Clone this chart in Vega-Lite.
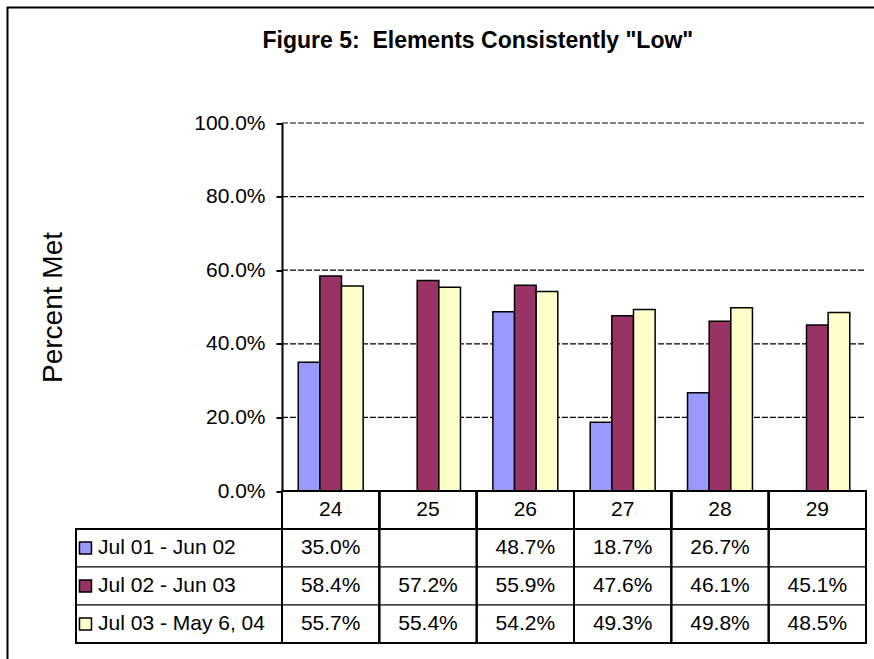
{
  "$schema": "https://vega.github.io/schema/vega-lite/v6.json",
  "usermeta": {"embedOptions": {"actions": false}},
  "autosize": "none",
  "width": 886.5,
  "height": 671.5,
  "padding": {"left": 7.5, "top": 7.5, "right": -20, "bottom": -20},
  "background": "white",
  "config": {
    "view": {"stroke": "black", "strokeWidth": 2},
    "font": "Liberation Sans"
  },
  "title": {
    "text": "Figure 5: \u00a0Elements Consistently \"Low\"",
    "font": "Liberation Sans",
    "fontSize": 23,
    "fontWeight": "bold",
    "color": "black",
    "anchor": "start",
    "frame": "group",
    "offset": -45,
    "dx": 255
  },
  "datasets": {
    "d": [
      {"cat": "24", "series": "Jul 01 - Jun 02", "value": 0.350},
      {"cat": "25", "series": "Jul 01 - Jun 02", "value": null},
      {"cat": "26", "series": "Jul 01 - Jun 02", "value": 0.487},
      {"cat": "27", "series": "Jul 01 - Jun 02", "value": 0.187},
      {"cat": "28", "series": "Jul 01 - Jun 02", "value": 0.267},
      {"cat": "29", "series": "Jul 01 - Jun 02", "value": null},
      {"cat": "24", "series": "Jul 02 - Jun 03", "value": 0.584},
      {"cat": "25", "series": "Jul 02 - Jun 03", "value": 0.572},
      {"cat": "26", "series": "Jul 02 - Jun 03", "value": 0.559},
      {"cat": "27", "series": "Jul 02 - Jun 03", "value": 0.476},
      {"cat": "28", "series": "Jul 02 - Jun 03", "value": 0.461},
      {"cat": "29", "series": "Jul 02 - Jun 03", "value": 0.451},
      {"cat": "24", "series": "Jul 03 - May 6, 04", "value": 0.557},
      {"cat": "25", "series": "Jul 03 - May 6, 04", "value": 0.554},
      {"cat": "26", "series": "Jul 03 - May 6, 04", "value": 0.542},
      {"cat": "27", "series": "Jul 03 - May 6, 04", "value": 0.493},
      {"cat": "28", "series": "Jul 03 - May 6, 04", "value": 0.498},
      {"cat": "29", "series": "Jul 03 - May 6, 04", "value": 0.485}
    ],
    "grid": [{"g": 0.2}, {"g": 0.4}, {"g": 0.6}, {"g": 0.8}, {"g": 1.0}]
  },
  "data": {"name": "d"},
  "resolve": {"scale": {"x": "independent", "y": "independent"}},
  "layer": [
    {
      "data": {"name": "grid"},
      "mark": {"type": "rule", "color": "black", "strokeWidth": 1.2, "strokeDash": [6, 2]},
      "encoding": {
        "y": {"field": "g", "type": "quantitative", "scale": {"domain": [0, 1], "range": [483.5, 115.5], "nice": false}, "axis": null},
        "x": {"datum": 0, "type": "quantitative", "scale": {"domain": [0, 1], "range": [274.5, 858.5], "nice": false}, "axis": null},
        "x2": {"datum": 1}
      }
    },
    {
      "transform": [{"filter": "isValid(datum.value)"}],
      "mark": {"type": "bar", "stroke": "black", "strokeWidth": 1.5, "opacity": 1},
      "encoding": {
        "x": {
          "field": "cat", "type": "nominal",
          "scale": {"domain": ["24", "25", "26", "27", "28", "29"], "range": [274.5, 858.5], "paddingInner": 0.333, "paddingOuter": 0.1667},
          "axis": null
        },
        "xOffset": {
          "field": "series", "type": "nominal",
          "scale": {"domain": ["Jul 01 - Jun 02", "Jul 02 - Jun 03", "Jul 03 - May 6, 04"], "paddingInner": 0, "paddingOuter": 0}
        },
        "y": {
          "field": "value", "type": "quantitative",
          "scale": {"domain": [0, 1], "range": [483.5, 115.5], "nice": false},
          "axis": {
            "orient": "left",
            "offset": -274.5,
            "values": [0, 0.2, 0.4, 0.6, 0.8, 1.0],
            "format": ".1%",
            "grid": false,
            "domainColor": "black",
            "domainWidth": 2,
            "tickColor": "black",
            "tickWidth": 2,
            "tickSize": 6,
            "labelFont": "Liberation Sans",
            "labelFontSize": 21,
            "labelColor": "black",
            "labelPadding": 11,
            "title": "Percent Met",
            "titleFont": "Liberation Sans",
            "titleFontSize": 28,
            "titleFontWeight": "normal",
            "titleColor": "black",
            "titlePadding": 126
          }
        },
        "color": {
          "field": "series", "type": "nominal",
          "scale": {"domain": ["Jul 01 - Jun 02", "Jul 02 - Jun 03", "Jul 03 - May 6, 04"], "range": ["#9999FF", "#993366", "#FFFFCC"]},
          "legend": null
        }
      }
    },
    {
      "encoding": {
        "x": {
          "field": "cat", "type": "nominal",
          "scale": {"domain": ["24", "25", "26", "27", "28", "29"], "range": [274.5, 858.5], "paddingInner": 0, "paddingOuter": 0},
          "axis": null
        }
      },
      "layer": [
        {
          "mark": {"type": "rect", "fill": "white", "stroke": "black", "strokeWidth": 1},
          "encoding": {
            "y": {"field": "series", "type": "nominal", "scale": {"domain": ["cat", "Jul 01 - Jun 02", "Jul 02 - Jun 03", "Jul 03 - May 6, 04"], "range": [483.5, 635.5], "paddingInner": 0, "paddingOuter": 0}, "axis": null}
          }
        },
        {
          "transform": [{"aggregate": [{"op": "count", "as": "n"}], "groupby": ["cat"]}],
          "mark": {"type": "rect", "fill": null, "stroke": "black", "strokeWidth": 2},
          "encoding": {
            "y": {"datum": "cat", "type": "nominal"}
          }
        },
        {
          "transform": [{"aggregate": [{"op": "count", "as": "n"}], "groupby": ["cat"]}],
          "mark": {"type": "rect", "fill": null, "stroke": "black", "strokeWidth": 2},
          "encoding": {
            "y": {"datum": "cat", "type": "nominal", "bandPosition": 0},
            "y2": {"datum": "Jul 03 - May 6, 04", "bandPosition": 1}
          }
        },
        {
          "transform": [{"aggregate": [{"op": "count", "as": "n"}], "groupby": ["cat"]}],
          "mark": {"type": "text", "font": "Liberation Sans", "fontSize": 21, "color": "black", "baseline": "middle", "align": "center"},
          "encoding": {
            "y": {"datum": "cat", "type": "nominal"},
            "text": {"field": "cat", "type": "nominal"}
          }
        },
        {
          "transform": [{"filter": "isValid(datum.value)"}],
          "mark": {"type": "text", "font": "Liberation Sans", "fontSize": 21, "color": "black", "baseline": "middle", "align": "center"},
          "encoding": {
            "y": {"field": "series", "type": "nominal"},
            "text": {"field": "value", "type": "quantitative", "format": ".1%"}
          }
        }
      ]
    },
    {
      "transform": [{"aggregate": [{"op": "count", "as": "n"}], "groupby": ["series"]}],
      "encoding": {
        "x": {"datum": "label", "type": "nominal", "scale": {"domain": ["label"], "range": [68.5, 274.5], "paddingInner": 0, "paddingOuter": 0}, "axis": null}
      },
      "layer": [
        {
          "mark": {"type": "rect", "fill": "white", "stroke": "black", "strokeWidth": 1},
          "encoding": {
            "y": {"field": "series", "type": "nominal", "scale": {"domain": ["cat", "Jul 01 - Jun 02", "Jul 02 - Jun 03", "Jul 03 - May 6, 04"], "range": [483.5, 635.5], "paddingInner": 0, "paddingOuter": 0}, "axis": null}
          }
        },
        {
          "mark": {"type": "rect", "fill": null, "stroke": "black", "strokeWidth": 2},
          "encoding": {
            "y": {"datum": "Jul 01 - Jun 02", "type": "nominal", "bandPosition": 0},
            "y2": {"datum": "Jul 03 - May 6, 04", "bandPosition": 1}
          }
        },
        {
          "mark": {"type": "point", "shape": "square", "filled": true, "size": 144, "stroke": "black", "strokeWidth": 1.5, "opacity": 1},
          "encoding": {
            "x": {"datum": "label", "type": "nominal", "bandPosition": 0.046},
            "y": {"field": "series", "type": "nominal"},
            "color": {"field": "series", "type": "nominal", "legend": null}
          }
        },
        {
          "mark": {"type": "text", "font": "Liberation Sans", "fontSize": 21, "color": "black", "baseline": "middle", "align": "left"},
          "encoding": {
            "x": {"datum": "label", "type": "nominal", "bandPosition": 0.107},
            "y": {"field": "series", "type": "nominal"},
            "text": {"field": "series", "type": "nominal"}
          }
        }
      ]
    }
  ]
}
